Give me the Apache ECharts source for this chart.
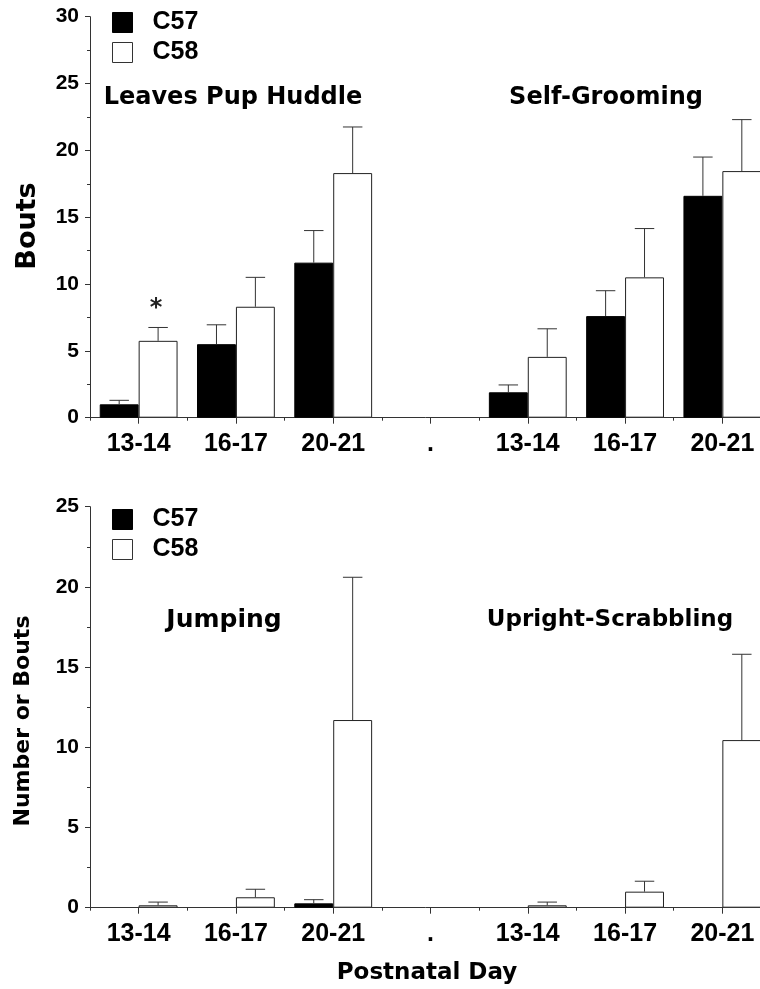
<!DOCTYPE html>
<html>
<head>
<meta charset="utf-8">
<script src="https://cdn.jsdelivr.net/npm/echarts@6/dist/echarts.min.js"></script>
<style>html,body{margin:0;padding:0;background:#fff}#c{width:760px;height:989px}</style>
</head>
<body>
<div id="c"></div>
<script>
// ---- data ----
const categories = ['13-14', '16-17', '20-21', '.', '13-14', '16-17', '20-21'];
const seriesNames = ['C57', 'C58'];
// top panel: Leaves Pup Huddle (first 3) | Self-Grooming (last 3)
const topC57 = [1.0, 5.5, 11.6, null, 1.9, 7.6, 16.6];
const topC57Err = [0.3, 1.45, 2.4, null, 0.55, 1.9, 2.9];
const topC58 = [5.75, 8.3, 18.3, null, 4.55, 10.5, 18.45];
const topC58Err = [1.0, 2.2, 3.45, null, 2.1, 3.65, 3.85];
const topC58Sig = ['*', '', '', '', '', '', ''];
// bottom panel: Jumping (first 3) | Upright-Scrabbling (last 3)
const botC57 = [null, null, 0.27, null, null, null, null];
const botC57Err = [null, null, 0.23, null, null, null, null];
const botC58 = [0.15, 0.65, 11.7, null, 0.15, 1.0, 10.45];
const botC58Err = [0.2, 0.5, 8.9, null, 0.2, 0.65, 5.35];
const noSig = ['', '', '', '', '', '', ''];
const topTicks = {min: 0, max: 30, interval: 5};
const botTicks = {min: 0, max: 25, interval: 5};
const panelTitles = ['Leaves Pup Huddle', 'Self-Grooming', 'Jumping', 'Upright-Scrabbling'];
const yNames = ['Bouts', 'Number or Bouts'];
const xName = 'Postnatal Day';

// ---- styles ----
const NUM_FONT = 'Liberation Sans';
const WORD_FONT = 'DejaVu Sans';
const AX = '#333';

function barData(arr) { return arr.map(v => v == null ? '-' : v); }
function errData(mean, err) {
  return mean.map((m, i) => (m == null || err[i] == null) ? null : [i, m, err[i]]).filter(Boolean);
}
function errSeries(name, grid, mean, err, sign, sig) {
  return {
    type: 'custom', name: name + ' err', xAxisIndex: grid * 2, yAxisIndex: grid, z: 5,
    silent: true, legendHoverLink: false,
    data: errData(mean, err),
    encode: {x: 0, y: 1},
    renderItem: function (params, api) {
      const i = api.value(0), m = api.value(1), e = api.value(2);
      const base = api.coord([i, m]);
      const top = api.coord([i, m + e]);
      const band = api.size([1, 0])[0];
      const x = base[0] + sign * band * 0.8 / 4;
      const half = band * 0.1;
      const children = [
        {type: 'line', shape: {x1: x, y1: base[1], x2: x, y2: top[1]}, style: {stroke: '#333', lineWidth: 1}},
        {type: 'line', shape: {x1: x - half, y1: top[1], x2: x + half, y2: top[1]}, style: {stroke: '#333', lineWidth: 1}}
      ];
      if (sig[i]) {
        children.push({type: 'text', style: {text: sig[i], x: x - 2, y: top[1] - 7, align: 'center', verticalAlign: 'bottom',
          font: 'bold 24px "' + WORD_FONT + '"', fill: '#222'}});
      }
      return {type: 'group', children: children};
    }
  };
}
function barSeries(name, grid, data) {
  const isBlack = name === 'C57';
  return {
    type: 'bar', name: name, xAxisIndex: grid * 2, yAxisIndex: grid,
    data: barData(data), barGap: '0%', barCategoryGap: '20%',
    itemStyle: isBlack ? {color: '#000', borderColor: '#000', borderWidth: 1}
                       : {color: '#fff', borderColor: '#222', borderWidth: 1},
    emphasis: {disabled: true}
  };
}
function xAxes(grid) {
  return [
    {type: 'category', gridIndex: grid, data: categories, position: 'bottom',
      axisLine: {show: true, lineStyle: {color: AX, width: 1}},
      axisTick: {show: true, alignWithLabel: true, length: 6, lineStyle: {color: AX}},
      axisLabel: {show: true, interval: 0, margin: 14, color: '#000', fontSize: 25, fontWeight: 'bold', fontFamily: NUM_FONT},
      splitLine: {show: false}},
    {type: 'category', gridIndex: grid, data: categories, position: 'bottom', offset: 0,
      axisLine: {show: false},
      axisTick: {show: true, alignWithLabel: false, length: 3, lineStyle: {color: AX}},
      axisLabel: {show: false}, splitLine: {show: false}}
  ];
}
function yAxis(grid, t) {
  return {type: 'value', gridIndex: grid, min: t.min, max: t.max, interval: t.interval,
    axisLine: {show: true, lineStyle: {color: AX, width: 1}},
    axisTick: {show: true, length: 5, lineStyle: {color: AX}},
    minorTick: {show: true, splitNumber: 2, length: 3, lineStyle: {color: AX}},
    axisLabel: {margin: 11, color: '#000', fontSize: 21, fontWeight: 'bold', fontFamily: NUM_FONT},
    splitLine: {show: false}};
}
function legend(top) {
  return {
    orient: 'vertical', left: 107, top: top, itemWidth: 20, itemHeight: 20, itemGap: 5,
    icon: 'rect', selectedMode: false,
    textStyle: {fontSize: 25, fontWeight: 'bold', fontFamily: NUM_FONT, color: '#000', padding: [0, 0, 0, 15]},
    data: [
      {name: seriesNames[0], itemStyle: {color: '#000', borderColor: '#000', borderWidth: 1}},
      {name: seriesNames[1], itemStyle: {color: '#fff', borderColor: '#333', borderWidth: 1}}
    ]
  };
}
function txt(text, x, y, size, rot) {
  return {type: 'text', x: x, y: y, rotation: rot || 0, silent: true,
    style: {text: text, x: 0, y: 0, align: 'center', verticalAlign: 'middle',
      font: 'bold ' + size + 'px "' + WORD_FONT + '"', fill: '#000'}};
}

const chart = echarts.init(document.getElementById('c'), null, {renderer: 'canvas'});
chart.setOption({
  animation: false,
  backgroundColor: '#fff',
  grid: [
    {left: 90, top: 16.7, width: 681, height: 401, containLabel: false, outerBoundsMode: 'none'},
    {left: 90, top: 506.7, width: 681, height: 401, containLabel: false, outerBoundsMode: 'none'}
  ],
  legend: [legend(5), legend(502)],
  xAxis: [...xAxes(0), ...xAxes(1)],
  yAxis: [yAxis(0, topTicks), yAxis(1, botTicks)],
  series: [
    barSeries('C57', 0, topC57), barSeries('C58', 0, topC58),
    barSeries('C57', 1, botC57), barSeries('C58', 1, botC58),
    errSeries('C57', 0, topC57, topC57Err, -1, noSig),
    errSeries('C58', 0, topC58, topC58Err, 1, topC58Sig),
    errSeries('C57', 1, botC57, botC57Err, -1, noSig),
    errSeries('C58', 1, botC58, botC58Err, 1, noSig)
  ],
  graphic: [
    txt(panelTitles[0], 233, 98, 24),
    txt(panelTitles[1], 606, 98, 24),
    txt(panelTitles[2], 224, 620, 25),
    txt(panelTitles[3], 610, 620, 23),
    txt(yNames[0], 28, 226, 27, Math.PI / 2),
    txt(yNames[1], 23, 721, 22, Math.PI / 2),
    txt(xName, 427, 973, 23)
  ]
});
</script>
</body>
</html>
